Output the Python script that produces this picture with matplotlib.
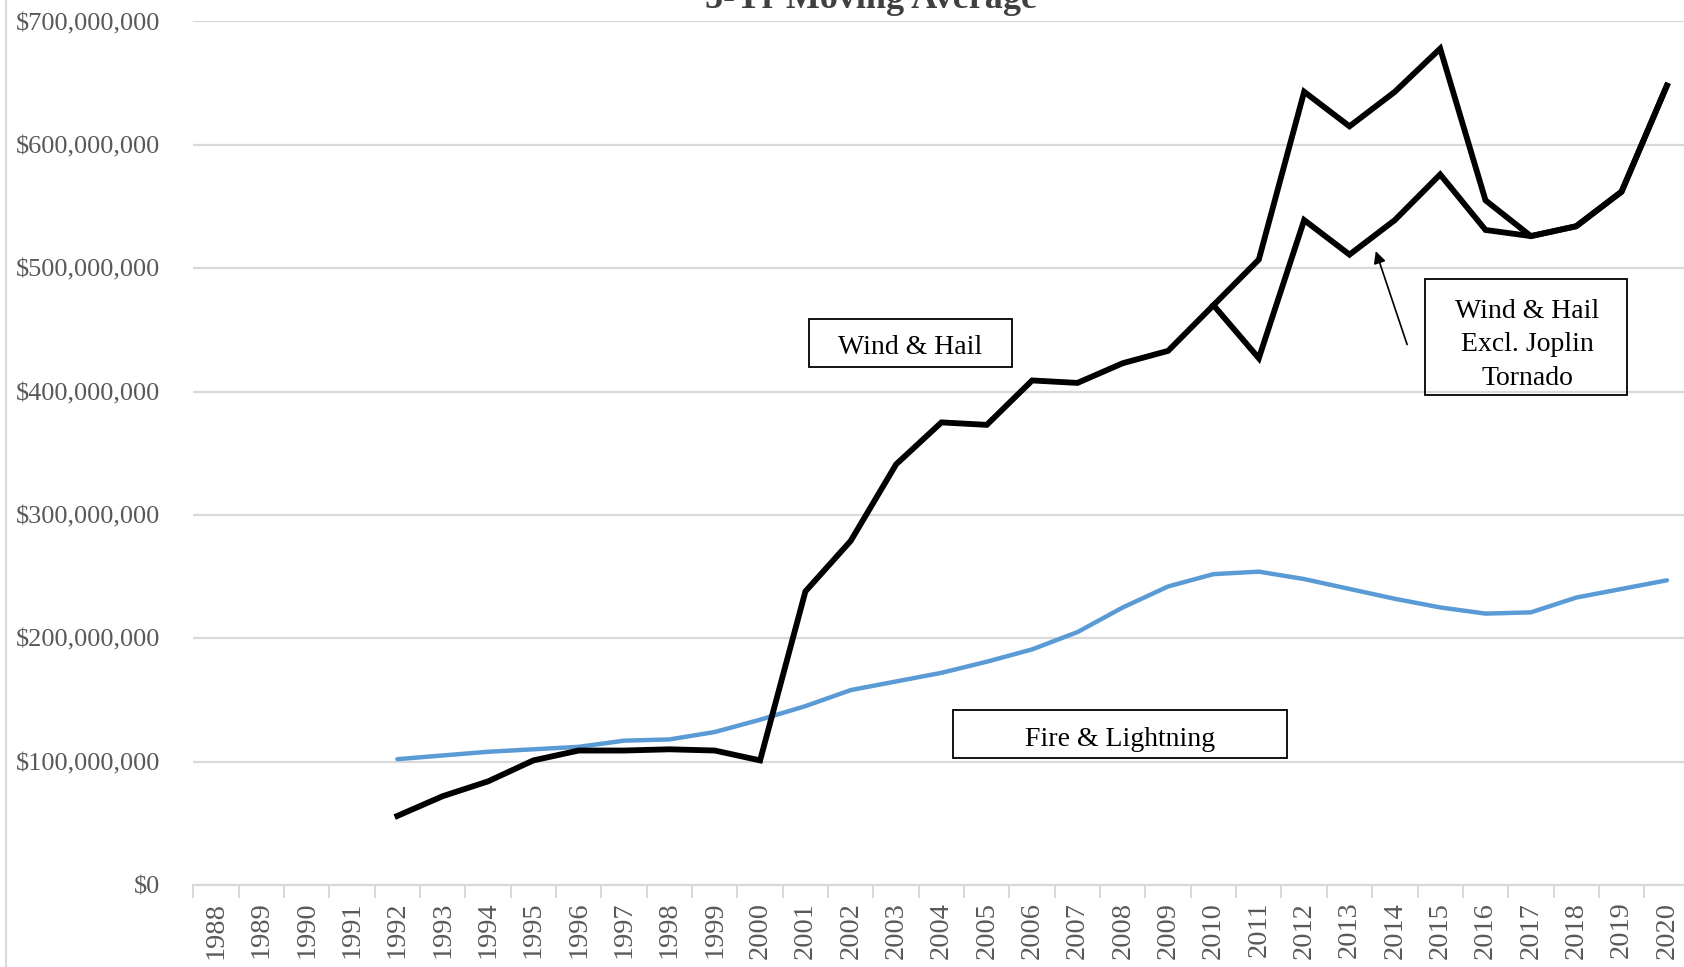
import numpy as np
import matplotlib
matplotlib.use('Agg')
import matplotlib.pyplot as plt
from matplotlib.patches import Rectangle
from matplotlib.lines import Line2D
from matplotlib.ticker import FuncFormatter

# Data (5-yr moving average, dollars)
years = list(range(1988, 2021))
wind_years = list(range(1992, 2021))
wind_hail = [56e6, 72e6, 84e6, 101e6, 109e6, 109e6, 110e6, 109e6, 101e6, 238e6,
             279e6, 341e6, 375e6, 373e6, 409e6, 407e6, 423e6, 433e6, 470e6, 507e6,
             643e6, 615e6, 643e6, 678e6, 555e6, 526e6, 534e6, 562e6, 648e6]
excl_years = list(range(2010, 2021))
wind_hail_excl = [470e6, 427e6, 539e6, 511e6, 539e6, 576e6, 531e6, 526e6, 534e6, 562e6, 648e6]
fire_years = list(range(1992, 2021))
fire_lightning = [102e6, 105e6, 108e6, 110e6, 112e6, 117e6, 118e6, 124e6, 134e6, 145e6,
                  158e6, 165e6, 172e6, 181e6, 191e6, 205e6, 225e6, 242e6, 252e6, 254e6,
                  248e6, 240e6, 232e6, 225e6, 220e6, 221e6, 233e6, 240e6, 247e6]

SERIF = ['Liberation Serif', 'DejaVu Serif']
GRAY = '#595959'

fig = plt.figure(figsize=(16.84, 9.67), dpi=100)
ax = fig.add_axes([0.1148, 0.0848, 0.8885, 0.893])

def idx(ys):
    return [y - years[0] for y in ys]

ax.plot(idx(fire_years), fire_lightning, color='#5B9BD5', lw=3.2, solid_capstyle='round', zorder=3)
ax.plot(idx(excl_years), wind_hail_excl, color='black', lw=4.2, solid_joinstyle='miter', zorder=4)
ax.plot(idx(wind_years), wind_hail, color='black', lw=4.2, solid_joinstyle='miter', zorder=4)

ax.set_xlim(-0.5, len(years) - 0.5)
ax.set_ylim(0, 700e6)
ax.set_yticks(np.arange(0, 700e6 + 1, 100e6))
ax.yaxis.set_major_formatter(FuncFormatter(lambda v, p: '${:,.0f}'.format(v)))
ax.grid(axis='y', color='#D9D9D9', lw=1.6)
ax.set_axisbelow(True)

ax.set_xticks(np.arange(len(years)))
ax.set_xticklabels([str(y) for y in years], rotation=90)
ax.set_xticks(np.arange(len(years) + 1) - 0.5, minor=True)
ax.tick_params(axis='x', which='major', length=0, pad=12)
ax.tick_params(axis='x', which='minor', length=9, color='#D9D9D9', width=1.4, direction='out')
ax.tick_params(axis='y', length=0, pad=24)
for lab in ax.get_xticklabels():
    lab.set_family(SERIF)
    lab.set_fontsize(20.5)
    lab.set_color(GRAY)
for lab in ax.get_yticklabels():
    lab.set_family(SERIF)
    lab.set_fontsize(19)
    lab.set_color(GRAY)

for s in ['top', 'right', 'left']:
    ax.spines[s].set_visible(False)
ax.spines['bottom'].set_color('#D9D9D9')
ax.spines['bottom'].set_linewidth(1.6)

# Labels in boxes
ax.add_patch(Rectangle((13.08, 419.9e6), 4.48, 38.9e6, fill=False, ec='black', lw=1.3, zorder=5))
ax.text(15.32, 436e6, 'Wind & Hail', ha='center', va='center', family=SERIF, fontsize=20, zorder=6)

ax.add_patch(Rectangle((16.25, 103e6), 7.37, 38.9e6, fill=False, ec='black', lw=1.3, zorder=5))
ax.text(19.94, 118e6, 'Fire & Lightning', ha='center', va='center', family=SERIF, fontsize=20, zorder=6)

ax.add_patch(Rectangle((26.67, 397.2e6), 4.45, 94.1e6, fill=False, ec='black', lw=1.3, zorder=5))
ax.text(28.92, 438e6, 'Wind & Hail\nExcl. Joplin\nTornado', ha='center', va='center',
        family=SERIF, fontsize=20, linespacing=1.45, zorder=6)
ax.annotate('', xy=(25.56, 516e6), xytext=(26.29, 436e6),
            arrowprops=dict(arrowstyle='-|>', color='black', lw=1.2, mutation_scale=18), zorder=6)

fig.text(0.517, 1.0 - 8 / 967, '5-Yr Moving Average', ha='center', va='baseline',
         family=SERIF, fontsize=26, fontweight='bold', color='#404040')

fig.add_artist(Line2D([5.5 / 1684, 5.5 / 1684], [0, 1], transform=fig.transFigure,
                      color='#D9D9D9', lw=1.5))

fig.savefig('out.png', dpi=100)
